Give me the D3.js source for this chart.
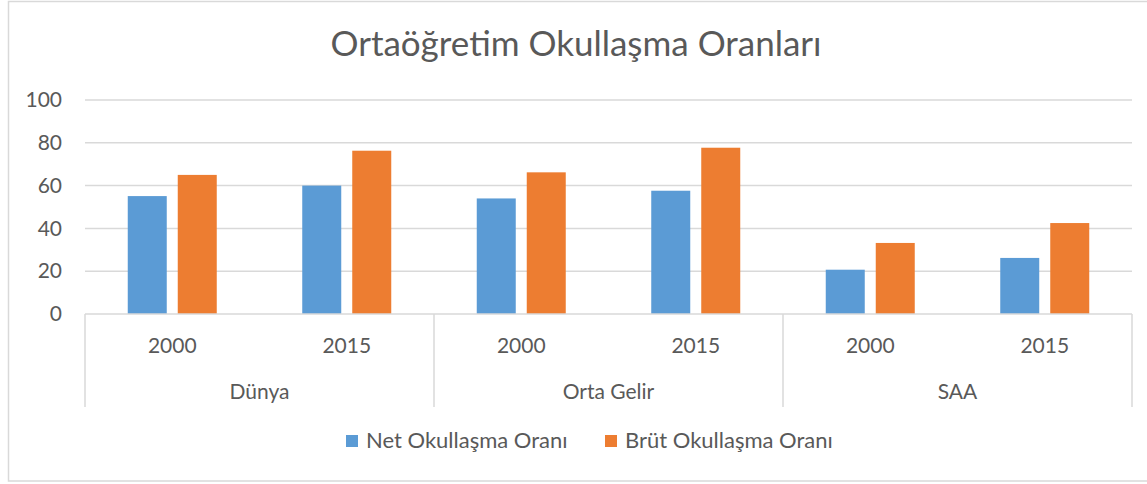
<!DOCTYPE html>
<html>
<head>
<meta charset="utf-8">
<script src="https://cdn.jsdelivr.net/npm/d3@7"></script>
<style>
html,body{margin:0;padding:0;background:#fff;}
svg{display:block;font-family:Lato, "Open Sans", sans-serif;}
</style>
</head>
<body>
<svg id="chart" width="1147" height="484"></svg>
<script>
const title = "Ortaöğretim Okullaşma Oranları";
const groups = ["Dünya", "Orta Gelir", "SAA"];
const years = ["2000", "2015"];
const seriesNames = ["Net Okullaşma Oranı", "Brüt Okullaşma Oranı"];
const netValues = [55.1, 60.0, 54.0, 57.6, 20.7, 26.2];
const brutValues = [65.0, 76.3, 66.2, 77.7, 33.2, 42.5];
const yTicks = [0, 20, 40, 60, 80, 100];
const colors = ["#5B9BD5", "#ED7D31"];

(function () {
const svg = d3.select("#chart");
const mLeft = 85, mRight = 1132, mTop = 100, mBottom = 314;
const textColor = "#595959", gridColor = "#D9D9D9";

// border
svg.append("rect").attr("x", 8.5).attr("y", 1.5).attr("width", 1150).attr("height", 479.5)
  .attr("fill", "none").attr("stroke", gridColor).attr("stroke-width", 1.5);

// categories
const cats = [];
groups.forEach(g => years.forEach(yr => cats.push({group: g, year: yr, key: g + "|" + yr})));
const data = cats.map((c, i) => ({...c, values: [netValues[i], brutValues[i]]}));

const x = d3.scaleBand().domain(cats.map(c => c.key)).range([mLeft, mRight]).padding(0);
const xs = d3.scaleBand().domain([0, 1]).range([0, x.bandwidth()]).paddingInner(0.22).paddingOuter(0.855);
const xg = d3.scaleBand().domain(groups).range([mLeft, mRight]).padding(0);
const y = d3.scaleLinear().domain([0, 100]).range([mBottom, mTop]);

// title
svg.append("text").attr("x", 576).attr("y", 56).attr("text-anchor", "middle")
  .attr("fill", textColor).attr("font-size", 35).text(title);

// gridlines
svg.append("g").selectAll("line").data(yTicks.filter(t => t > 0)).join("line")
  .attr("x1", mLeft).attr("x2", mRight).attr("y1", d => y(d)).attr("y2", d => y(d))
  .attr("stroke", gridColor).attr("stroke-width", 1.5);

// y axis labels
const yAxis = d3.axisLeft(y).tickValues(yTicks).tickSize(0).tickPadding(23);
const gy = svg.append("g").attr("transform", `translate(${mLeft},0)`).call(yAxis);
gy.select(".domain").remove();
gy.selectAll("text").attr("fill", textColor).attr("font-size", 21).attr("font-family", "Lato, sans-serif");

// bars
const gBars = svg.append("g");
data.forEach(d => {
  d.values.forEach((v, si) => {
    gBars.append("rect")
      .attr("x", x(d.key) + xs(si))
      .attr("y", y(v))
      .attr("width", xs.bandwidth())
      .attr("height", y(0) - y(v))
      .attr("fill", colors[si]);
  });
});

// category axis line
svg.append("line").attr("x1", mLeft).attr("x2", mRight).attr("y1", y(0)).attr("y2", y(0))
  .attr("stroke", gridColor).attr("stroke-width", 1.5);
// group separators
const seps = groups.map(g => xg(g)).concat([mRight]);
svg.append("g").selectAll("line").data(seps).join("line")
  .attr("x1", d => d).attr("x2", d => d).attr("y1", y(0)).attr("y2", 407)
  .attr("stroke", gridColor).attr("stroke-width", 1.5);

// year labels
svg.append("g").selectAll("text").data(cats).join("text")
  .attr("x", d => x(d.key) + x.bandwidth() / 2).attr("y", 353)
  .attr("text-anchor", "middle").attr("fill", textColor).attr("font-size", 21)
  .text(d => d.year);
// group labels
svg.append("g").selectAll("text").data(groups).join("text")
  .attr("x", d => xg(d) + xg.bandwidth() / 2).attr("y", 399)
  .attr("text-anchor", "middle").attr("fill", textColor).attr("font-size", 21)
  .text(d => d);

// legend
const legendX = [346, 605];
const lg = svg.append("g");
seriesNames.forEach((name, i) => {
  lg.append("rect").attr("x", legendX[i]).attr("y", 435).attr("width", 12).attr("height", 12)
    .attr("fill", colors[i]);
  lg.append("text").attr("x", legendX[i] + 20).attr("y", 448).attr("fill", textColor)
    .attr("font-size", 22).text(name);
});
})();
</script>
</body>
</html>
